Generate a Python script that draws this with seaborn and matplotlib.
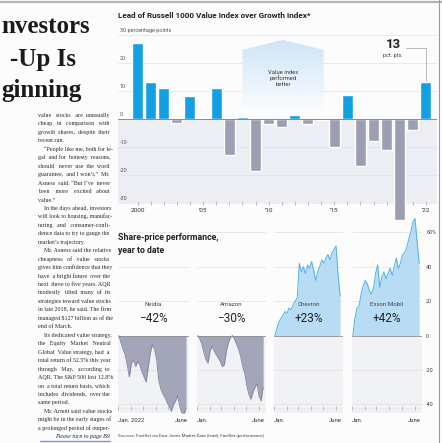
import numpy as np
import pandas as pd
import matplotlib
matplotlib.use("Agg")
import matplotlib.pyplot as plt
import matplotlib.dates as mdates
import matplotlib.transforms as mtransforms
from matplotlib.patches import Polygon
from matplotlib.colors import LinearSegmentedColormap
import seaborn as sns

# ---------------- data ----------------
years = list(range(2000, 2023))
lead = [27, 13, 11, -1.5, 8, 0.3, 11, -13, 0.8, -18.5, -2, -3, 1.5, -2, -0.3,
        -10, 8.5, -17, -8, -11, -36, -4, 13]
year_labels = {2000: "2000", 2005: "\u201905", 2010: "\u201910", 2015: "\u201915",
               2020: "\u201920", 2022: "\u201922"}
lead_ticks = [30, 20, 10, 0, -10, -20, -30]
lead_tick_labels = ["30 percentage points", "20", "10", "0", "-10", "-20", "-30"]

dates = pd.date_range("2022-01-03", periods=33, freq="5D")
nvidia = [0, -4, -8, -11, -17, -24, -16, -14, -18, -15, -17, -21, -24, -27, -18, -10,
          -5, -8, -14, -26, -31, -34, -36, -39, -41, -44, -40, -38, -35, -41, -45, -46, -42]
amazon = [0, -2, -5, -10, -14, -16, -9, -6, -9, -11, -13, -15, -18, -17, -9, -4,
          -1, 0, -2, -5, -8, -12, -18, -22, -29, -34, -37, -33, -30, -28, -35, -38, -30]
chevron = [0, 4, 8, 10, 12, 14, 13, 16, 15, 18, 20, 22, 42, 37, 40, 36,
           41, 39, 43, 38, 32, 37, 40, 44, 42, 45, 47, 44, 48, 50, 52, 35, 23]
exxon = [0, 10, 16, 17, 24, 29, 32, 30, 26, 24, 28, 36, 41, 28, 34, 37,
         33, 36, 39, 35, 40, 45, 39, 42, 47, 48, 51, 56, 60, 66, 68, 55, 42]
companies = ["Nvidia", "Amazon", "Chevron", "Exxon Mobil"]
changes = ["\u221242%", "\u221230%", "+23%", "+42%"]
perf_ticks = [60, 40, 20, 0, -20, -40]
perf_tick_labels = ["60%", "40", "20", "0", "-20", "-40"]

article = [
    ("value stocks are unusually", False, True),
    ("cheap in comparison with", False, True),
    ("growth shares, despite their", False, True),
    ("recent run.", False, False),
    ("\u201cPeople like me, both for le-", True, True),
    ("gal and for honesty reasons,", False, True),
    ("should never use the word", False, True),
    ("guarantee, and I won\u2019t,\u201d Mr.", False, True),
    ("Asness said. \u201cBut I\u2019ve never", False, True),
    ("been more excited about", False, True),
    ("value.\u201d", False, False),
    ("In the days ahead, investors", True, True),
    ("will look to housing, manufac-", False, True),
    ("turing and consumer-confi-", False, True),
    ("dence data to try to gauge the", False, True),
    ("market\u2019s trajectory.", False, False),
    ("Mr. Asness said the relative", True, True),
    ("cheapness of value stocks", False, True),
    ("gives him confidence that they", False, True),
    ("have a bright future over the", False, True),
    ("next three to five years. AQR", False, True),
    ("modestly tilted many of its", False, True),
    ("strategies toward value stocks", False, True),
    ("in late 2018, he said. The firm", False, True),
    ("managed $127 billion as of the", False, True),
    ("end of March.", False, False),
    ("Its dedicated value strategy,", True, True),
    ("the Equity Market Neutral", False, True),
    ("Global Value strategy, had a", False, True),
    ("total return of 52.5% this year", False, True),
    ("through May, according to", False, True),
    ("AQR. The S&P 500 lost 12.8%", False, True),
    ("on a total return basis, which", False, True),
    ("includes dividends, over the", False, True),
    ("same period.", False, False),
    ("Mr. Arnott said value stocks", True, True),
    ("might be in the early stages of", False, True),
    ("a prolonged period of outper-", False, True),
]
headline = ["nvestors", "-Up Is", "ginning"]

# ---------------- figure ----------------
W, H = 442, 443
sns.set_theme(style="white")
plt.rcParams["font.family"] = ["Roboto", "DejaVu Sans"]
fig = plt.figure(figsize=(W / 100, H / 100), dpi=100, facecolor="#fcfcfc")


def rect(x0, y0, x1, y1):
    return [x0 / W, 1 - y1 / H, (x1 - x0) / W, (y1 - y0) / H]


def fx(px):
    return px / W


def fy(py):
    return 1 - py / H


BLUE = "#139fe3"
GRAY = "#9c9fb3"

# ---------------- top chart ----------------
ax = fig.add_axes(rect(118, 32, 437, 228))
ax.set_facecolor("none")
ax.axhspan(-30, 0, color="#eceef3", lw=0, zorder=0)
for v in [30, 20, 10, -10, -20]:
    ax.axhline(v, color="#e2e2e2", lw=0.5, zorder=0.2)
ax.axhline(-30, color="#c8c8c8", lw=0.5, ls=(0, (1, 2)), zorder=0.2)

# "value index performed better" shape
poly_pts = [(8.0, 0), (8.0, 24.6), (11.1, 28.2), (14.2, 24.6), (14.2, 0)]
poly = Polygon(poly_pts, closed=True, facecolor="none", edgecolor="none",
               transform=ax.transData)
ax.add_patch(poly)
cmap = LinearSegmentedColormap.from_list("g", ["#ffffff", "#cfe5f7"])
grad = np.linspace(0, 1, 100).reshape(-1, 1)
im = ax.imshow(grad, extent=[8.0, 14.2, 0, 28.2], cmap=cmap, aspect="auto",
               origin="lower", zorder=0.5)
im.set_clip_path(poly)
ax.text(11.1, 14.5, "Value index\nperformed\nbetter", ha="center", va="center",
        fontsize=4.2, color="#3a3a3a", linespacing=1.15, zorder=1)

df = pd.DataFrame({"year": [str(y) for y in years], "lead": lead,
                   "sign": ["pos" if v >= 0 else "neg" for v in lead]})
sns.barplot(data=df, x="year", y="lead", hue="sign",
            palette={"pos": BLUE, "neg": GRAY}, dodge=False, width=0.84,
            saturation=1, legend=False, ax=ax, zorder=2)
ax.axhline(0, color="#8a8a8a", lw=0.7, zorder=3)

ax.set_xlim(-1.49, 22.84)
ax.set_ylim(-39, 31)
for s in ax.spines.values():
    s.set_visible(False)
ax.spines["bottom"].set_position(("data", -30))
ax.set_xticks(range(len(years)))
ax.set_xticklabels([year_labels.get(y, "") for y in years])
ax.tick_params(axis="x", length=2.5, width=0.5, color="#aaaaaa", direction="inout",
               pad=2.5, labelsize=4.6, labelcolor="#333333", bottom=True)
ax.set_yticks([])
ax.set_xlabel("")
ax.set_ylabel("")
trans = mtransforms.blended_transform_factory(ax.transAxes, ax.transData)
for v, lab in zip(lead_ticks, lead_tick_labels):
    ax.text(0.006, v + 0.7, lab, transform=trans, ha="left", va="bottom",
            fontsize=4.0, color="#555555", zorder=4)

ax.text(19.5, 26.4, "13", ha="center", va="center", fontsize=9.5,
        fontweight="bold", color="#222222")
ax.text(19.5, 22.6, "pct. pts.", ha="center", va="center", fontsize=4.0,
        color="#444444")
ax.annotate("", xy=(22, lead[-1] + 0.5), xytext=(20.45, 25.4),
            arrowprops=dict(arrowstyle="-", color="#a0a0a0", lw=0.5,
                            connectionstyle="angle,angleA=0,angleB=90,rad=0",
                            shrinkA=0, shrinkB=0))

fig.text(fx(118), fy(15), "Lead of Russell 1000 Value Index over Growth Index*",
         fontsize=5.9, fontweight="bold", color="#222222", va="center", ha="left")

# ---------------- bottom panels ----------------
series = [nvidia, amazon, chevron, exxon]
panel_x = [(118, 189), (197, 266), (274, 343), (352, 422)]
styles = [("#a3a6b8", "#868a9e"), ("#a3a6b8", "#868a9e"),
          ("#b7dcf4", "#4fb0e8"), ("#b7dcf4", "#4fb0e8")]
xlim = (pd.Timestamp("2022-01-01"), pd.Timestamp("2022-06-19"))
for i, (name, chg, vals, (x0, x1), (fc, lc)) in enumerate(
        zip(companies, changes, series, panel_x, styles)):
    a = fig.add_axes(rect(x0, 215, x1, 413))
    a.set_facecolor("none")
    a.axhspan(-45, 0, color="#f1f2f5", lw=0, zorder=0)
    for v in [60, 40, 20, -20, -40]:
        a.axhline(v, color="#e0e0e0", lw=0.5, zorder=0.2)
    a.axhline(-42, color="#cccccc", lw=0.4, ls=(0, (1, 2)), zorder=0.2)
    a.fill_between(dates, vals, 0, color=fc, lw=0, zorder=1)
    sns.lineplot(x=dates, y=vals, color=lc, lw=0.7, ax=a, zorder=2)
    a.axhline(0, color="#8d8d8d", lw=0.6, zorder=3)
    a.set_xlim(*xlim)
    a.set_ylim(-45, 70)
    for s in a.spines.values():
        s.set_visible(False)
    a.spines["bottom"].set_position(("data", -42))
    months = mdates.MonthLocator().tick_values(*xlim)
    labs = []
    for k in range(len(months)):
        if k == 0:
            labs.append("Jan. 2022" if i == 0 else "Jan.")
        elif k == 5:
            labs.append("June")
        else:
            labs.append("")
    a.set_xticks(months)
    a.set_xticklabels(labs)
    for k, t in enumerate(a.get_xticklabels()):
        if k == 0:
            t.set_ha("left")
    a.tick_params(axis="x", length=2.5, width=0.5, color="#aaaaaa",
                  direction="inout", pad=6, labelsize=4.3, labelcolor="#333333",
                  bottom=True)
    a.set_xlabel("")
    a.set_ylabel("")
    if i == 3:
        a.yaxis.tick_right()
        a.set_yticks(perf_ticks)
        a.set_yticklabels(perf_tick_labels)
        a.tick_params(axis="y", length=0, labelsize=4.0, pad=3,
                      labelcolor="#444444", right=True, left=False)
    else:
        a.set_yticks([])
    tr = mtransforms.blended_transform_factory(a.transAxes, a.transData)
    a.text(0.5, 17.8, name, transform=tr, ha="center", va="center",
           fontsize=4.4, color="#444444", zorder=4)
    a.text(0.5, 10.0, chg, transform=tr, ha="center", va="center",
           fontsize=8.5, color="#222222", zorder=4)

fig.text(fx(118), fy(237), "Share-price performance,", fontsize=6.3,
         fontweight="bold", color="#222222", va="center", ha="left")
fig.text(fx(118), fy(250), "year to date", fontsize=6.3,
         fontweight="bold", color="#222222", va="center", ha="left")
fig.text(fx(118), fy(436),
         "Sources: FactSet via Dow Jones Market Data (lead); FactSet (performance)",
         fontsize=3.2, color="#444444", va="center", ha="left")

# ---------------- frame lines ----------------
fig.add_artist(plt.Line2D([0, 1], [fy(1.5), fy(1.5)], color="#b5b5b5", lw=1.6,
                          transform=fig.transFigure))
fig.add_artist(plt.Line2D([fx(439), fx(439)], [0, 1], color="#9a9a9a", lw=0.8,
                          transform=fig.transFigure))

# ---------------- article column ----------------
hl_y = [33, 66, 97]
hl_x = [1, 10, 1]
for txt, x, y in zip(headline, hl_x, hl_y):
    fig.text(fx(x), fy(y), txt, fontsize=18, fontweight="bold",
             family="Liberation Serif", color="#1a1a1a", va="baseline", ha="left")

fs = 4.3
renderer = fig.canvas.get_renderer()


def text_w(s):
    t = fig.text(0, 0, s, fontsize=fs, family="Liberation Serif")
    w = t.get_window_extent(renderer).width
    t.remove()
    return w


space_w = max(text_w("a a") - text_w("aa"), 0.5)
left, right = 38, 110
y0, dy = 117, 8.45
for n, (line, indent, justify) in enumerate(article):
    y = fy(y0 + n * dy)
    xs = left + (6 if indent else 0)
    out = line
    if justify:
        words = line.split()
        ngaps = len(words) - 1
        extra = right - xs - text_w(line)
        nsp = max(int(round(extra / space_w)), 0)
        if ngaps > 0 and nsp > 0:
            gaps = [1 + nsp // ngaps + (1 if g < nsp % ngaps else 0)
                    for g in range(ngaps)]
            # spread the extra spaces evenly rather than front-loading
            order = sorted(range(ngaps), key=lambda g: (g * 7) % ngaps)
            gaps_sorted = [0] * ngaps
            for g, o in enumerate(order):
                gaps_sorted[o] = gaps[g]
            out = words[0]
            for w, gsz in zip(words[1:], gaps_sorted):
                out += " " * gsz + w
    fig.text(fx(xs), y, out, fontsize=fs, family="Liberation Serif",
             color="#2a2a2a", va="baseline", ha="left")
fig.text(fx(right), fy(y0 + len(article) * dy), "Please turn to page B9",
         fontsize=fs, family="Liberation Serif", style="italic",
         color="#2a2a2a", va="baseline", ha="right")
fig.add_artist(plt.Line2D([fx(40), fx(110)], [fy(441), fy(441)], color="#8a90d8",
                          lw=1.0, transform=fig.transFigure))

fig.savefig("out.png", dpi=100, facecolor=fig.get_facecolor())
